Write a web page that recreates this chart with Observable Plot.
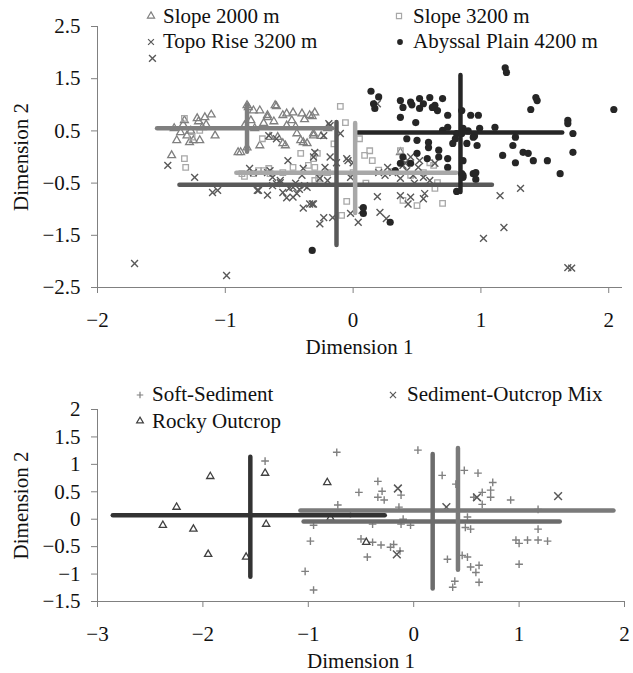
<!DOCTYPE html>
<html><head><meta charset="utf-8">
<script src="https://cdn.jsdelivr.net/npm/d3@7"></script>
<script src="https://cdn.jsdelivr.net/npm/@observablehq/plot@0.6"></script>
<style>
@font-face{font-family:'ChartSerif';src:local('Liberation Serif'),local('LiberationSerif'),local('LiberationSerif-Regular'),local('Tinos'),local('Times New Roman'),local('FreeSerif');}
body{margin:0;background:#fff;font-size:20px;font-family:'Liberation Serif','Tinos','Times New Roman','FreeSerif',serif;}
#wrap{position:relative;width:633px;height:673px;}
#wrap > svg{display:block;overflow:visible;}
#wrap text, .lgt{font-family:'Liberation Serif','ChartSerif','Tinos','Times New Roman','FreeSerif',serif !important;}
.lgt{position:absolute;font-size:21px;line-height:21px;color:#111;white-space:nowrap;}
.lgs{position:absolute;width:14px;height:14px;overflow:visible;}
</style></head><body><div id="wrap"></div>
<script>
// ---------- TOP PANEL DATA (Dimension 1, Dimension 2) ----------
const slope2000 = [[-1.42,0.03],[-1.38,0.32],[-1.32,0.70],[-1.30,0.41],[-1.22,0.74],[-1.18,0.57],[-1.16,0.76],[-1.11,0.81],[-1.08,0.41],[-1.25,0.32],[-1.20,0.32],[-1.35,0.47],[-1.28,0.28],[-1.33,0.62],[-1.21,0.68],[-0.88,0.09],[-0.83,0.18],[-0.82,0.95],[-0.78,0.89],[-0.73,0.89],[-0.67,0.80],[-0.73,0.22],[-0.65,0.38],[-0.60,0.97],[-0.55,0.80],[-0.47,0.85],[-0.40,0.83],[-0.34,0.80],[-0.53,0.22],[-0.59,0.38],[-0.52,0.60],[-0.41,0.32],[-0.31,0.45],[-0.36,0.26],[-0.90,0.09],[-0.83,0.99],[-0.61,0.99],[-0.67,0.76],[-0.55,0.26],[-0.52,0.83],[-0.44,0.45],[-0.39,0.28],[-0.32,0.78],[-0.31,0.41],[-0.30,0.85],[-0.38,0.72],[-0.80,0.70],[-0.85,0.60],[-0.77,0.55],[-0.70,0.65],[-0.62,0.68],[-0.48,0.70],[-0.45,0.58],[-1.27,0.50],[-1.15,0.62],[-1.40,0.55],[-0.25,0.40],[-0.20,0.55],[0.37,0.09],[0.40,-0.05]];
const slope3200 = [[-1.32,-0.03],[-1.31,-0.20],[-1.32,0.74],[-1.20,0.51],[-1.26,0.38],[-0.41,0.07],[-0.31,-0.03],[-0.30,-0.20],[-0.87,-0.32],[-0.78,-0.32],[-0.70,-0.26],[-0.65,-0.32],[-0.71,0.35],[-0.85,-0.37],[-0.74,-0.26],[-0.66,-0.22],[-0.47,-0.20],[-0.35,-0.16],[-0.30,-0.45],[-0.10,0.97],[-0.06,0.66],[0.05,0.35],[0.13,0.12],[0.09,0.03],[0.15,-0.07],[0.37,0.12],[0.60,-0.11],[0.63,-0.16],[0.64,-0.60],[0.70,-0.89],[0.50,-0.93],[-0.27,-0.41],[-0.28,0.07],[-0.09,-1.12],[0.66,-0.49],[0.39,-0.83],[0.45,-0.35],[0.55,-0.30],[0.30,-0.28],[-0.55,-0.30],[-0.20,-0.30],[0.00,-0.30],[0.20,-0.25],[-0.15,0.25],[0.10,-0.50],[-0.05,-0.85]];
const topoRise = [[-1.71,-2.04],[-0.99,-2.27],[-1.57,1.89],[-1.45,-0.16],[-1.24,-0.39],[1.15,-0.74],[1.31,-0.60],[1.18,-1.35],[1.02,-1.56],[1.68,-2.12],[1.71,-2.13],[0.19,-0.76],[0.21,-1.06],[0.26,-1.18],[-0.23,-1.16],[-0.26,-1.28],[-0.16,-1.16],[0.04,-1.25],[-0.02,-1.08],[0.37,-0.74],[0.45,-0.77],[0.55,-0.80],[0.43,-0.90],[-0.31,-0.90],[0.07,-1.02],[-1.10,-0.68],[-1.06,-0.64],[-0.74,-0.64],[-0.67,-0.73],[-0.63,-0.55],[-0.55,-0.68],[-0.47,-0.77],[-0.39,-0.98],[-0.32,-0.90],[-0.57,-0.49],[-0.78,-0.30],[-0.81,-0.22],[-0.67,-0.30],[-0.65,-0.26],[-0.51,-0.07],[-0.39,-0.22],[-0.75,-0.64],[-0.60,-0.51],[-0.52,-0.78],[-0.47,-0.58],[-0.57,-0.45],[-0.63,-0.39],[-0.44,-0.70],[-0.36,-0.58],[-0.31,0.00],[-0.34,-0.90],[-0.66,0.41],[-0.60,0.35],[-0.19,0.64],[-0.23,0.41],[-0.10,0.45],[-0.30,0.09],[-0.18,0.00],[-0.13,-0.11],[-0.05,-0.03],[0.00,-0.11],[-0.26,-0.41],[-0.20,-0.45],[-0.02,-0.39],[-0.40,-0.35],[0.19,1.02],[0.25,-0.35],[0.31,-0.30],[0.37,-0.41],[0.42,-0.26],[0.47,-0.35],[0.39,-0.16],[0.51,-0.20],[0.55,-0.39],[0.56,-0.70],[0.27,-0.20],[0.41,-0.12],[0.45,0.00],[0.52,-0.07],[0.64,-0.12],[-0.22,-0.20],[-0.18,0.60],[-0.04,-0.07],[-0.45,-0.50],[-0.42,-0.62],[-0.50,-0.60],[-0.38,-0.55],[0.60,-0.45],[0.48,-0.50],[0.20,-0.30]];
const abyssal = [[1.19,1.71],[1.20,1.62],[0.14,1.26],[0.16,1.02],[0.17,0.93],[0.37,1.08],[0.39,0.95],[0.45,1.05],[0.52,1.12],[0.52,0.93],[0.60,1.14],[0.64,0.99],[0.66,0.89],[0.70,1.12],[0.37,0.76],[0.49,0.66],[0.74,0.80],[0.85,0.89],[0.92,0.80],[0.98,0.80],[1.43,1.14],[1.44,1.08],[1.39,0.91],[2.04,0.91],[1.68,0.70],[1.68,0.64],[1.72,0.45],[1.72,0.09],[1.62,-0.32],[1.52,-0.07],[1.41,-0.07],[1.27,-0.11],[1.17,0.03],[1.25,0.22],[1.33,0.09],[1.37,0.07],[1.27,0.38],[1.11,0.57],[0.99,0.55],[0.94,0.38],[0.86,0.55],[0.81,0.45],[0.74,0.57],[0.70,0.51],[0.89,0.26],[0.97,0.22],[0.78,0.26],[0.42,0.35],[0.50,0.32],[0.59,0.28],[0.59,0.18],[0.67,0.13],[0.67,0.00],[0.50,0.07],[0.58,-0.03],[0.74,-0.03],[0.39,0.00],[0.45,-0.12],[0.37,-0.12],[0.33,-0.26],[0.74,-0.20],[0.86,-0.07],[0.94,-0.32],[0.85,-0.32],[0.81,-0.66],[0.86,-0.39],[0.96,-0.43],[0.96,-0.30],[0.29,-1.25],[0.08,-1.08],[-0.32,-1.79],[0.08,-0.97],[0.86,-0.35],[0.46,1.00],[0.55,1.02],[0.62,0.95],[0.85,0.45],[0.90,0.50],[0.95,0.40],[0.80,0.35],[0.20,1.15]];

// centroid crosshairs (top): name, centre x, centre y, x-range, y-range
const topNames = ["Slope 2000 m","Slope 3200 m","Topo Rise 3200 m","Abyssal Plain 4200 m"];
const topCx  = [-0.83, 0.016, -0.13, 0.84];
const topCy  = [0.55, -0.30, -0.53, 0.47];
const topXlo = [-1.53, -0.91, -1.355, 0.04];
const topXhi = [-0.16, 0.81, 1.09, 1.64];
const topYlo = [0.09, -1.08, -1.695, -0.68];
const topYhi = [0.99, 0.64, 0.66, 1.56];
const topXTicks = [-2,-1,0,1,2];
const topYTicks = [-2.5,-1.5,-0.5,0.5,1.5,2.5];

// ---------- BOTTOM PANEL DATA ----------
const softSediment = [[-1.41,1.06],[-0.95,-0.11],[-0.98,-0.40],[-1.03,-0.95],[-0.95,-1.29],[-0.73,1.22],[0.04,1.26],[0.27,0.80],[0.48,0.89],[0.61,0.84],[-0.34,0.69],[-0.52,0.49],[-0.30,0.51],[-0.34,0.40],[-0.28,0.35],[-0.12,0.44],[-0.72,0.26],[0.40,0.64],[0.75,0.67],[0.73,0.53],[0.73,0.40],[0.65,0.49],[0.92,0.35],[0.57,0.40],[0.65,0.27],[-0.39,-0.09],[-0.14,0.22],[-0.10,0.00],[-0.03,-0.11],[0.51,0.04],[1.18,0.18],[1.18,-0.18],[0.54,-0.18],[-0.12,-0.09],[-0.50,-0.36],[-0.39,-0.42],[-0.31,-0.47],[-0.22,-0.51],[-0.19,-0.46],[-0.13,-0.58],[-0.44,-0.69],[0.32,-0.73],[0.46,-0.66],[0.51,-0.69],[0.54,-0.87],[0.62,-0.84],[0.59,-0.97],[0.62,-1.15],[0.39,-1.13],[0.37,-1.24],[0.97,-0.38],[1.00,-0.44],[1.08,-0.38],[1.18,-0.38],[1.27,-0.40],[1.00,-0.82],[0.49,-0.15],[-0.60,0.10]];
const rockyOutcrop = [[-2.25,0.22],[-2.38,-0.11],[-2.09,-0.18],[-1.93,0.78],[-1.95,-0.64],[-1.59,-0.69],[-1.41,0.84],[-1.40,-0.09],[-0.82,0.67],[-0.79,0.02],[-0.45,-0.42]];
const sedOutcropMix = [[-0.15,0.56],[0.31,0.22],[0.60,0.40],[1.37,0.42],[-0.16,-0.64]];

const botNames = ["Soft-Sediment","Rocky Outcrop","Sediment-Outcrop Mix"];
const botCx  = [0.18, -1.55, 0.42];
const botCy  = [-0.04, 0.07, 0.16];
const botXlo = [-1.04, -2.85, -1.07];
const botXhi = [1.39, -0.27, 1.90];
const botYlo = [-1.27, -1.06, -0.93];
const botYhi = [1.18, 1.13, 1.29];
const botXTicks = [-3,-2,-1,0,1,2];
const botYTicks = [-1.5,-1,-0.5,0,0.5,1,1.5,2];

// ---------- helpers ----------
const fmt = d => (d < 0 ? "\u2212" : "") + Math.abs(d);
const FONT = "'Liberation Serif','ChartSerif','Tinos','Times New Roman','FreeSerif',serif";
const AX = "#808080";
const pts = a => a.map(([x,y]) => ({x,y}));
const cross = (names,cx,cy,xlo,xhi,ylo,yhi,colors) =>
  names.map((n,i)=>({name:n,cx:cx[i],cy:cy[i],xlo:xlo[i],xhi:xhi[i],ylo:ylo[i],yhi:yhi[i],color:colors[i]}));

const topCross = cross(topNames,topCx,topCy,topXlo,topXhi,topYlo,topYhi,["#7f7f7f","#a8a8a8","#595959","#262626"]);
const botCross = cross(botNames,botCx,botCy,botXlo,botXhi,botYlo,botYhi,["#6c6c6c","#333333","#7a7a7a"]);

function axes(xt, yt){
  return [
    Plot.frame({anchor:"left", stroke:AX}),
    Plot.frame({anchor:"bottom", stroke:AX}),
    Plot.axisX({ticks:xt, tickFormat:fmt, tickSize:6, tickPadding:19, stroke:AX, fill:"#111",
      label:"Dimension 1", labelAnchor:"center", labelArrow:"none", labelOffset:66}),
    Plot.axisY({ticks:yt, tickFormat:fmt, tickSize:6, tickPadding:11, stroke:AX, fill:"#111",
      label:"Dimension 2", labelAnchor:"center", labelArrow:"none", labelOffset:84})
  ];
}
function crossMarks(c){
  return [
    Plot.ruleY(c,{y:"cy", x1:"xlo", x2:"xhi", stroke:"color", strokeWidth:4.5, strokeLinecap:"round"}),
    Plot.ruleX(c,{x:"cx", y1:"ylo", y2:"yhi", stroke:"color", strokeWidth:4.5, strokeLinecap:"round"})
  ];
}

const topPlot = Plot.plot({
  width:633, height:360, marginLeft:97, marginRight:12, marginTop:26, marginBottom:73,
  style:{fontFamily:FONT, fontSize:"21px", color:"#111", background:"transparent", overflow:"visible"},
  x:{domain:[-2,2.1]},
  y:{domain:[-2.5,2.5]},
  marks:[
    Plot.dot(pts(slope2000),{x:"x",y:"y",symbol:"triangle",r:2.9,stroke:"#7f7f7f",strokeWidth:1.3}),
    Plot.dot(pts(slope3200),{x:"x",y:"y",symbol:"square",r:3.1,stroke:"#a8a8a8",strokeWidth:1.3}),
    Plot.dot(pts(topoRise),{x:"x",y:"y",symbol:"times",r:3.2,stroke:"#595959",strokeWidth:1.4}),
    Plot.dot(pts(abyssal),{x:"x",y:"y",symbol:"circle",r:3.6,fill:"#262626"}),
    ...crossMarks(topCross),
    ...axes(topXTicks, topYTicks)
  ]
});

const botPlot = Plot.plot({
  width:633, height:313, marginLeft:97, marginRight:9, marginTop:49, marginBottom:72,
  style:{fontFamily:FONT, fontSize:"21px", color:"#111", background:"transparent", overflow:"visible"},
  x:{domain:[-3,2]},
  y:{domain:[-1.5,2]},
  marks:[
    Plot.dot(pts(softSediment),{x:"x",y:"y",symbol:"plus",r:2.6,stroke:"#808080",strokeWidth:1.4}),
    Plot.dot(pts(rockyOutcrop),{x:"x",y:"y",symbol:"triangle",r:2.7,stroke:"#404040",strokeWidth:1.3}),
    Plot.dot(pts(sedOutcropMix),{x:"x",y:"y",symbol:"times",r:3.6,stroke:"#595959",strokeWidth:1.5}),
    ...crossMarks(botCross),
    ...axes(botXTicks, botYTicks)
  ]
});

const wrap = document.getElementById("wrap");
wrap.appendChild(topPlot);
wrap.appendChild(botPlot);

// ---------- legends (HTML overlay) ----------
const legendItems = [
  {label:"Slope 2000 m", sym:d3.symbolTriangle, size:22, stroke:"#7f7f7f", fill:"none", sx:151, sy:16, tx:163, ty:23},
  {label:"Topo Rise 3200 m", sym:d3.symbolTimes, size:24, stroke:"#595959", fill:"none", sx:151, sy:42, tx:163, ty:48},
  {label:"Slope 3200 m", sym:d3.symbolSquare, size:26, stroke:"#a8a8a8", fill:"none", sx:399, sy:16, tx:413, ty:23},
  {label:"Abyssal Plain 4200 m", sym:d3.symbolCircle, size:26, stroke:"none", fill:"#262626", sx:400, sy:42, tx:413, ty:48},
  {label:"Soft-Sediment", sym:d3.symbolPlus, size:16, stroke:"#808080", fill:"none", sx:140, sy:395, tx:152, ty:401},
  {label:"Rocky Outcrop", sym:d3.symbolTriangle, size:20, stroke:"#404040", fill:"none", sx:140, sy:421, tx:152, ty:428},
  {label:"Sediment-Outcrop Mix", sym:d3.symbolTimes, size:26, stroke:"#595959", fill:"none", sx:393, sy:395, tx:407, ty:401}
];
const W = d3.select(wrap);
for (const d of legendItems) {
  W.append("svg").attr("class","lgs")
    .style("left", (d.sx-7)+"px").style("top", (d.sy-7)+"px")
    .attr("width",14).attr("height",14)
    .append("path").attr("transform","translate(7,7)")
    .attr("d", d3.symbol(d.sym, d.size)())
    .attr("fill", d.fill).attr("stroke", d.stroke).attr("stroke-width", 1.2);
  W.append("div").attr("class","lgt")
    .style("left", d.tx+"px").style("top", (d.ty-17)+"px")
    .text(d.label);
}
// make every SVG text use the serif family explicitly
d3.selectAll("#wrap svg text").attr("font-family", "Liberation Serif").style("font-family", FONT);
</script></body></html>
